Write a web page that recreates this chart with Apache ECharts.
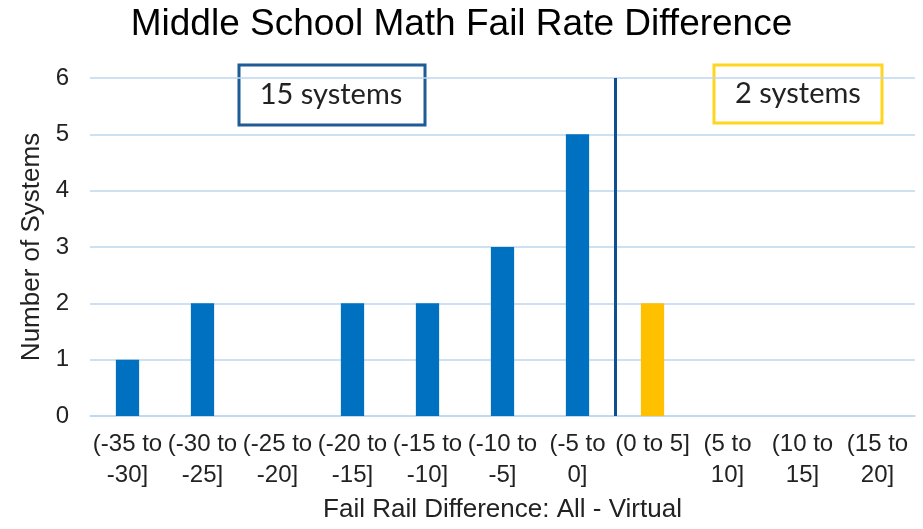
<!DOCTYPE html>
<html>
<head>
<meta charset="utf-8">
<script src="https://cdn.jsdelivr.net/npm/echarts@6/dist/echarts.min.js"></script>
<style>
  html, body { margin: 0; padding: 0; background: #fff; }
  #chart { width: 923px; height: 529px; }
</style>
</head>
<body>
<div id="chart"></div>
<script>
  // bins of the fail rate difference
  var categories = ['(-35 to\n-30]', '(-30 to\n-25]', '(-25 to\n-20]', '(-20 to\n-15]', '(-15 to\n-10]',
    '(-10 to\n-5]', '(-5 to\n0]', '(0 to 5]', '(5 to\n10]', '(10 to\n15]', '(15 to\n20]'];
  var counts = [1, 2, 0, 2, 2, 3, 5, 2, 0, 0, 0];
  var yTicks = [0, 1, 2, 3, 4, 5, 6];
  var splitAt = 7; // between negative and positive bins

  var myChart = echarts.init(document.getElementById('chart'));
  var option = {
    animation: false,
    textStyle: { fontFamily: 'Liberation Sans, Arial, sans-serif' },
    title: {
      text: 'Middle School Math Fail Rate Difference',
      left: 'center',
      top: 1,
      textStyle: { fontSize: 37, fontWeight: 'normal', color: '#000' }
    },
    grid: { left: 90, right: 8, top: 78, bottom: 113 },
    xAxis: [
      {
        type: 'category',
        data: categories,
        axisLine: { lineStyle: { color: '#BDD7EE', width: 1.5 } },
        axisTick: { show: false },
        axisLabel: { color: '#222', fontSize: 24, lineHeight: 31, margin: 13, interval: 0 },
        name: 'Fail Rail Difference: All - Virtual',
        nameLocation: 'middle',
        nameGap: 81,
        nameTextStyle: { fontSize: 26, color: '#222' }
      },
      {
        type: 'value', min: 0, max: categories.length, show: false
      }
    ],
    yAxis: {
      type: 'value',
      min: yTicks[0],
      max: yTicks[yTicks.length - 1],
      interval: 1,
      axisLine: { show: false },
      axisTick: { show: false },
      axisLabel: { color: '#222', fontSize: 24, margin: 21 },
      splitLine: { lineStyle: { color: '#BDD7EE', width: 1.5 } },
      name: 'Number of Systems',
      nameLocation: 'middle',
      nameGap: 44,
      nameTextStyle: { fontSize: 26, color: '#222' }
    },
    series: [
      {
        type: 'bar',
        barWidth: '31%',
        data: counts.map(function (v, i) {
          return { value: v, itemStyle: { color: i < splitAt ? '#0070C0' : '#FFC000' } };
        })
      },
      {
        type: 'line',
        xAxisIndex: 1,
        data: [],
        markLine: {
          symbol: 'none',
          silent: true,
          label: { show: false },
          lineStyle: { color: '#0F4F8F', width: 3, type: 'solid' },
          data: [{ xAxis: splitAt }]
        }
      }
    ],
    graphic: [
      {
        type: 'rect',
        shape: { x: 239, y: 65, width: 186, height: 60 },
        style: { fill: '#fff', stroke: '#1F5B96', lineWidth: 3 }
      },
      {
        type: 'text',
        x: 331, y: 95,
        style: { text: '15 systems', fontSize: 29, fontFamily: 'Lato, Open Sans, sans-serif', fill: '#222', align: 'center', verticalAlign: 'middle' }
      },
      {
        type: 'rect',
        shape: { x: 714, y: 65, width: 168, height: 58 },
        style: { fill: '#fff', stroke: '#FFD61F', lineWidth: 3 }
      },
      {
        type: 'text',
        x: 798, y: 94,
        style: { text: '2 systems', fontSize: 29, fontFamily: 'Lato, Open Sans, sans-serif', fill: '#222', align: 'center', verticalAlign: 'middle' }
      }
    ]
  };
  myChart.setOption(option, true);
</script>
</body>
</html>
